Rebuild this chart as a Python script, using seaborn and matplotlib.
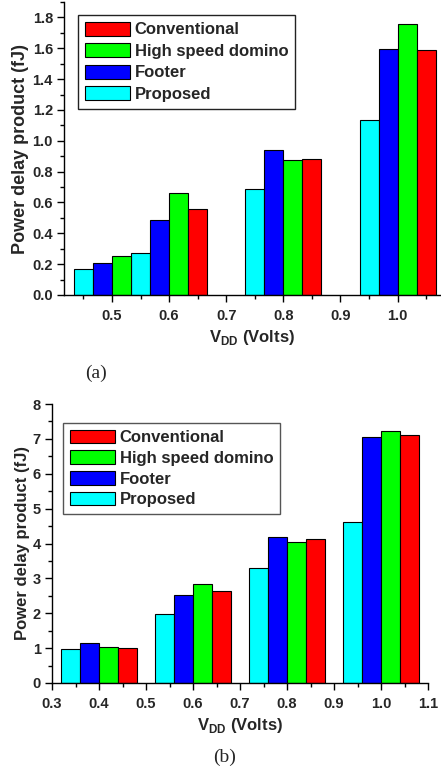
import numpy as np
import pandas as pd
import matplotlib
matplotlib.use('Agg')
import matplotlib.pyplot as plt
from matplotlib.ticker import MultipleLocator, FormatStrFormatter
import seaborn as sns

sns.set_style('ticks')
plt.rcParams['font.family'] = ['Liberation Sans', 'DejaVu Sans']
plt.rcParams['font.weight'] = 'bold'
plt.rcParams['mathtext.fontset'] = 'custom'
plt.rcParams['mathtext.rm'] = 'Liberation Sans:bold'
plt.rcParams['mathtext.bf'] = 'Liberation Sans:bold'

# 左到右的柱子顺序 / legend 顺序相反
series = ['Proposed', 'Footer', 'High speed domino', 'Conventional']
colors = ['#00FFFF', '#0000FF', '#00FF00', '#FF0000']
legend_order = ['Conventional', 'High speed domino', 'Footer', 'Proposed']

# (a) 面板
vdd_a = [0.5, 0.6, 0.8, 1.0]
proposed_a = [0.166, 0.270, 0.687, 1.132]
footer_a = [0.210, 0.484, 0.942, 1.592]
hs_domino_a = [0.255, 0.663, 0.877, 1.759]
conventional_a = [np.nan, 0.557, 0.884, 1.590]  # 0.5 处被遮住，读不出

# (b) 面板
vdd_b = [0.4, 0.6, 0.8, 1.0]
proposed_b = [0.985, 1.979, 3.298, 4.627]
footer_b = [1.147, 2.533, 4.187, 7.055]
hs_domino_b = [1.042, 2.839, 4.044, 7.218]
conventional_b = [1.013, 2.648, 4.130, 7.113]


def to_long(vdd, *vals):
    rows = []
    for name, v in zip(series, vals):
        for x, y in zip(vdd, v):
            rows.append({'VDD': x, 'PDP': y, 'Design': name})
    return pd.DataFrame(rows).dropna()


def draw_panel(ax, df, width, ylabel_fs):
    sns.barplot(data=df, x='VDD', y='PDP', hue='Design', hue_order=series,
                palette=colors, native_scale=True, width=width, errorbar=None,
                saturation=1, edgecolor='black', linewidth=0.8, ax=ax)
    sns.despine(ax=ax)
    for s in ['left', 'bottom']:
        ax.spines[s].set_linewidth(1.0)
        ax.spines[s].set_color('black')
    ax.xaxis.set_major_locator(MultipleLocator(0.1))
    ax.xaxis.set_minor_locator(MultipleLocator(0.05))
    ax.xaxis.set_major_formatter(FormatStrFormatter('%.1f'))
    ax.tick_params(which='major', direction='out', length=5, width=1,
                   labelsize=10.5, color='black')
    ax.tick_params(axis='x', which='major', pad=5)
    ax.tick_params(axis='y', which='major', pad=3)
    ax.tick_params(which='minor', direction='out', length=3, width=1, color='black')
    ax.set_xlabel(r'V$_{\mathbf{DD}}$ (Volts)', fontsize=12, fontweight='bold', labelpad=4)
    ax.set_ylabel('Power delay product (fJ)', fontsize=ylabel_fs, fontweight='bold', labelpad=2)
    h, l = ax.get_legend_handles_labels()
    lookup = dict(zip(l, h))
    return [lookup[n] for n in legend_order]


def add_legend(ax, fig, hs, x0, y0, edge, spacing):
    leg = ax.legend(hs, legend_order, loc='upper left', bbox_to_anchor=(x0 / 441, 1 - y0 / 772),
                    bbox_transform=fig.transFigure, borderaxespad=0, fancybox=False,
                    framealpha=1, prop={'size': 12, 'weight': 'bold'},
                    handlelength=2.7, handleheight=0.9, handletextpad=0.3,
                    labelspacing=spacing, borderpad=0.4)
    leg.get_frame().set_edgecolor(edge)
    leg.get_frame().set_linewidth(1.0)


fig = plt.figure(figsize=(4.41, 7.72), dpi=100)

ax_a = fig.add_axes([64 / 441, 1 - 295 / 772, (441 - 64) / 441, 293 / 772])
hs = draw_panel(ax_a, to_long(vdd_a, proposed_a, footer_a, hs_domino_a, conventional_a),
                4 / 3, 13)
ax_a.set_xlim(0.416, 1.076)
ax_a.set_ylim(0, 1.9)
ax_a.yaxis.set_major_locator(MultipleLocator(0.2))
ax_a.yaxis.set_minor_locator(MultipleLocator(0.1))
ax_a.yaxis.set_major_formatter(FormatStrFormatter('%.1f'))
add_legend(ax_a, fig, hs, 78, 15, '#222222', 0.35)

ax_b = fig.add_axes([52 / 441, 1 - 683 / 772, 376 / 441, 279 / 772])
hs = draw_panel(ax_b, to_long(vdd_b, proposed_b, footer_b, hs_domino_b, conventional_b),
                0.8, 12)
ax_b.set_xlim(0.3, 1.1)
ax_b.set_ylim(0, 8)
ax_b.yaxis.set_major_locator(MultipleLocator(1))
ax_b.yaxis.set_minor_locator(MultipleLocator(0.5))
ax_b.yaxis.set_major_formatter(FormatStrFormatter('%d'))
add_legend(ax_b, fig, hs, 63, 423, '#555555', 0.3)

fig.text(96 / 441, 1 - 373 / 772, '(a)', family='Liberation Serif', fontweight='normal',
         fontsize=14, ha='center', va='center')
fig.text(225 / 441, 1 - 757 / 772, '(b)', family='Liberation Serif', fontweight='normal',
         fontsize=14, ha='center', va='center')

fig.savefig('out.png', dpi=100)
